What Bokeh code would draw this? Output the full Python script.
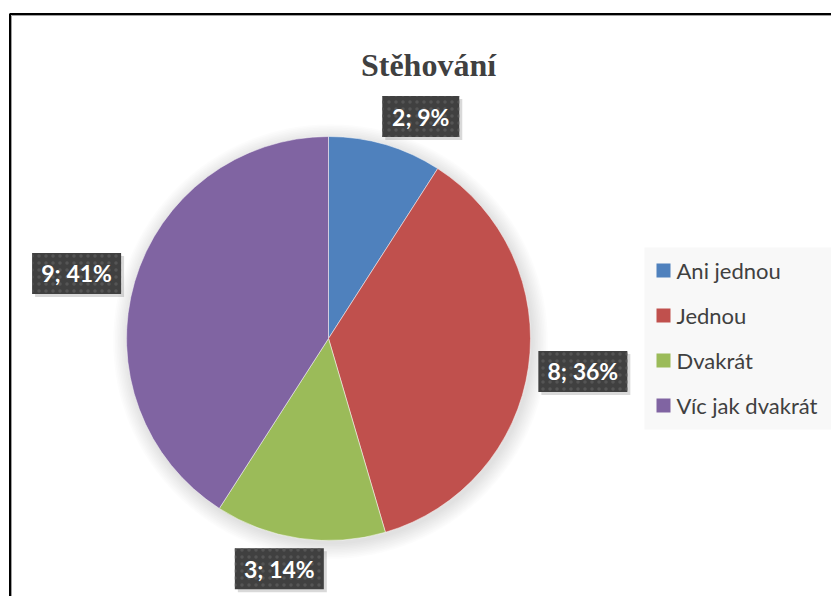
import math
from bokeh.plotting import figure
from bokeh.models import ColumnDataSource, Range1d
from bokeh.core.properties import value
from bokeh.embed import file_html
from bokeh.resources import INLINE

# ---- data ----
title = "Stěhování"
categories = ["Ani jednou", "Jednou", "Dvakrát", "Víc jak dvakrát"]
counts = [2, 8, 3, 9]
colors = ["#4F81BD", "#C0504D", "#9BBB59", "#8064A2"]

# ---- layout ----
W, H = 831, 596
cx, cy, R = 328, 258, 202
label_gap = 10
box_h = 41
label_nudge = [(0, -2), (0, 6), (0, 0), (-4, -12)]

p = figure(width=W, height=H, x_range=Range1d(0, W), y_range=Range1d(0, H),
           output_backend="svg", toolbar_location=None, min_border=0)
p.axis.visible = False
p.grid.visible = False
p.outline_line_color = None
p.background_fill_color = "white"
p.border_fill_color = "white"

total = sum(counts)
starts, ends, mids = [], [], []
cum = 0
for c in counts:
    a0 = 2 * math.pi * cum / total
    cum += c
    a1 = 2 * math.pi * cum / total
    starts.append(math.pi / 2 - a1)
    ends.append(math.pi / 2 - a0)
    mids.append((a0 + a1) / 2)

# pie soft shadow
for i in range(10):
    p.circle(x=[cx + 2], y=[cy - 3], radius=R + 1 + i * 1.6,
             fill_color="black", fill_alpha=0.010, line_color=None)

src = ColumnDataSource(dict(start=starts, end=ends, color=colors, cat=categories))
p.wedge(x=cx, y=cy, radius=R, start_angle="start", end_angle="end",
        fill_color="color", line_color="white", line_width=0.7, line_alpha=0.7,
        source=src)

# data labels
def clamp(v):
    return max(-1.0, min(1.0, v))

lx, ly, lw, lt = [], [], [], []
for i, (c, m) in enumerate(zip(counts, mids)):
    txt = f"{c}; {round(100 * c / total)}%"
    w = 12 * len(txt) + 17
    s, co = math.sin(m), math.cos(m)
    ax = cx + (R + label_gap) * s
    ay = cy + (R + label_gap) * co
    x = ax + w / 2 * clamp(3 * s) + label_nudge[i][0]
    y = ay + box_h / 2 * clamp(3 * co) + label_nudge[i][1]
    lx.append(x); ly.append(y); lw.append(w); lt.append(txt)

lsrc = ColumnDataSource(dict(x=lx, y=ly, w=lw, t=lt,
                             sx=[v + 3 for v in lx], sy=[v - 3 for v in ly]))
p.rect(x="sx", y="sy", width="w", height=box_h, fill_color="black",
       fill_alpha=0.15, line_color=None, source=lsrc)
p.rect(x="x", y="y", width="w", height=box_h, fill_color="#404040",
       hatch_pattern="dot", hatch_color="#555555", hatch_scale=7,
       line_color=None, source=lsrc)
p.text(x="x", y="y", text="t", text_align="center", text_baseline="middle",
       text_font=value("Lato"), text_font_style="bold", text_font_size="23px",
       text_color="white", source=lsrc)

# legend
p.quad(left=644, right=W, top=349, bottom=167, fill_color="#F8F8F8", line_color=None)
leg_y = [326 - 45 * i for i in range(len(categories))]
p.rect(x=[663] * len(categories), y=leg_y, width=14, height=14,
       fill_color=colors, line_color=None)
p.text(x=[676] * len(categories), y=leg_y, text=categories, text_align="left",
       text_baseline="middle", text_font=value("Lato"), text_font_size="22px",
       text_color="#404040")

# title
p.text(x=[428], y=[532], text=[title], text_align="center", text_baseline="alphabetic",
       text_font=value("Liberation Serif"), text_font_style="bold",
       text_font_size="32px", text_color="#404040")

# frame
p.line(x=[11, 11, W + 5], y=[-5, 581, 581], line_color="#a0a0a0", line_width=1)
p.line(x=[9.5, 9.5, W + 5], y=[-5, 582.5, 582.5], line_color="black", line_width=2)

open("out.html", "w").write(file_html(p, INLINE, title="Stěhování"))
